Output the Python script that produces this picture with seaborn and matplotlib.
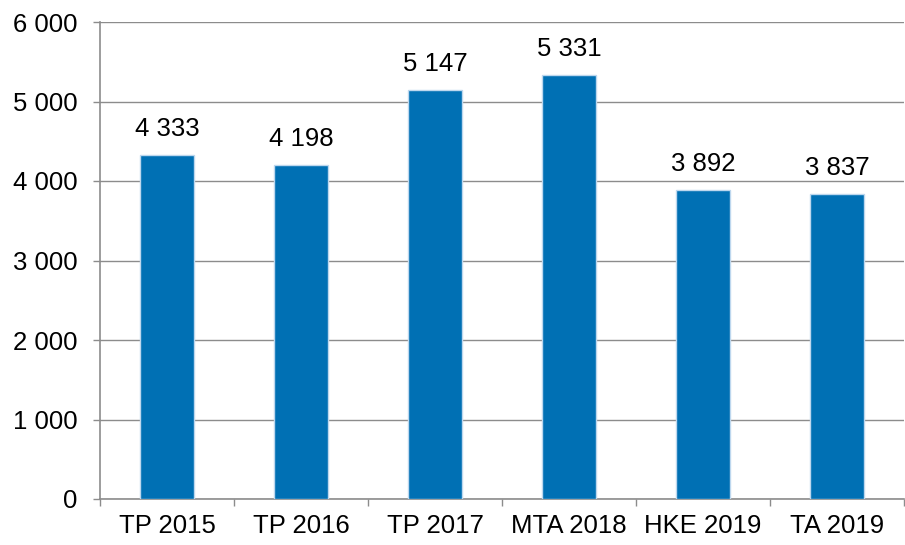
import matplotlib
matplotlib.use("Agg")
import matplotlib.pyplot as plt
import seaborn as sns
import pandas as pd
from matplotlib.ticker import FuncFormatter, FixedLocator, NullFormatter

categories = ["TP 2015", "TP 2016", "TP 2017", "MTA 2018", "HKE 2019", "TA 2019"]
values = [4333, 4198, 5147, 5331, 3892, 3837]

df = pd.DataFrame({"cat": categories, "val": values})

sns.set_style("white")
plt.rcParams['font.family'] = ['Liberation Sans', 'DejaVu Sans']

fig = plt.figure(figsize=(9.05, 5.45), dpi=100)
ax = fig.add_axes([100 / 905, 1 - 499 / 545, 1 - 100 / 905 - 1 / 905, (499 - 22) / 545])

sns.barplot(data=df, x="cat", y="val", color="#0070B4", saturation=1,
            width=0.4, edgecolor="#BDD7EE", linewidth=1, ax=ax, zorder=3)

fmt = lambda v, p=None: f"{int(v):,}".replace(",", " ")
ax.bar_label(ax.containers[0], labels=[fmt(v) for v in values],
             padding=10, fontsize=18.5, color="#000000")

ax.set_ylim(0, 6000)
ax.set_xlim(-0.5, len(categories) - 0.5)
ax.set_yticks(range(0, 6001, 1000))
ax.yaxis.set_major_formatter(FuncFormatter(fmt))
ax.grid(axis="y", color="#8c8c8c", linewidth=1, zorder=0)
ax.set_axisbelow(True)

ax.xaxis.set_minor_locator(FixedLocator([i - 0.5 for i in range(len(categories) + 1)]))
ax.xaxis.set_minor_formatter(NullFormatter())
ax.tick_params(axis="x", which="major", length=0, labelsize=18.5, pad=11, colors="#000000")
ax.tick_params(axis="x", which="minor", length=5, width=1, color="#8c8c8c")
ax.tick_params(axis="y", length=5, width=1, color="#8c8c8c", labelsize=18.5, pad=11, labelcolor="#000000")
ax.xaxis.set_ticks_position("bottom")
ax.yaxis.set_ticks_position("left")

for s in ["top", "right"]:
    ax.spines[s].set_visible(False)
for s in ["left", "bottom"]:
    ax.spines[s].set_color("#8c8c8c")
    ax.spines[s].set_linewidth(1.2)

ax.set_xlabel("")
ax.set_ylabel("")

fig.savefig("out.png", dpi=100)
